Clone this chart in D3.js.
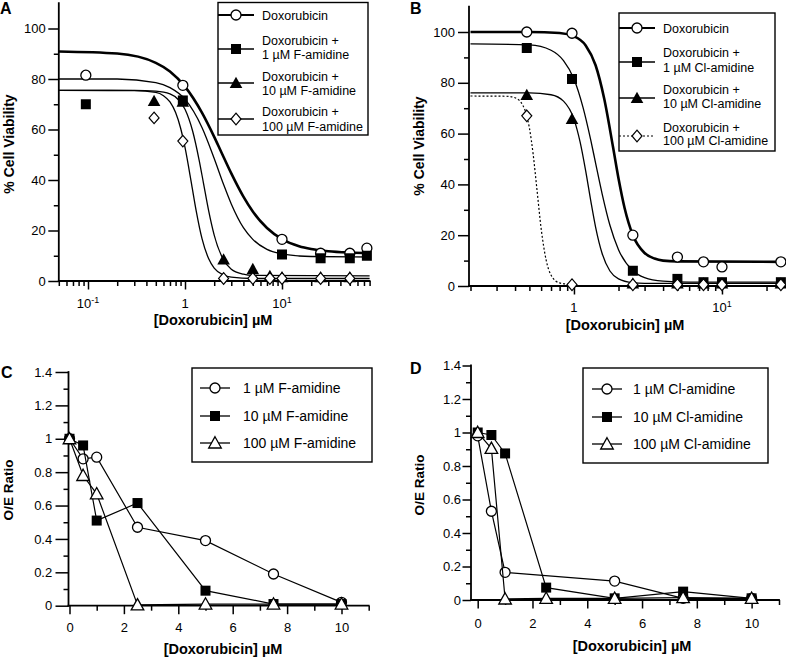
<!DOCTYPE html>
<html><head><meta charset="utf-8">
<script src="https://cdn.jsdelivr.net/npm/d3@7"></script>
<style>body{margin:0;background:#fff}svg{display:block}</style>
</head><body>
<script>
// ================= DATA =================
// Panel A : F-amidine, % cell viability vs [Doxorubicin] (log)
const doseA1 = [0.095, 0.95, 10, 25, 50, 75];
const viabDoxA = [81.5, 77.5, 16.5, 11, 11, 13];
const viabF1 = [70, 71.5, 10.5, 9, 9, 10];
const doseA2 = [0.48, 0.95, 2.5, 5, 7.5, 10, 25, 50];
const viabF10 = [71.3, 71, 8.5, 4.7, 2, 1.5, 1.5, 1.5];
const viabF100 = [64.6, 55.4, 1, 1, 1, 1, 1, 1];
// fitted curves of panel A
const fitDoxA_x = [0.05, 0.2, 0.5, 0.7, 1, 1.5, 2, 2.37, 3, 4, 5, 7, 10, 15, 20, 30, 50, 80];
const fitDoxA_y = [90.9, 90.1, 86.4, 83.0, 77.0, 66.6, 57.1, 51, 42.6, 33.4, 27.5, 21.0, 16.6, 13.8, 12.7, 11.8, 11.3, 11.1];
const fitF1_x = [0.05, 0.2, 0.5, 0.7, 1, 1.5, 2, 2.5, 3, 4, 5, 7, 10, 15, 20, 80];
const fitF1_y = [80, 80, 78.6, 76.6, 72, 60.7, 48.5, 38.2, 30.5, 21.1, 16.5, 12.5, 10.7, 9.9, 9.7, 9.5];
const fitF10_x = [0.05, 0.3, 0.5, 0.7, 0.85, 1, 1.2, 1.4, 1.55, 1.75, 2, 2.5, 3, 4, 5, 80];
const fitF10_y = [75.5, 75.5, 75.2, 74.1, 71.9, 68, 59.3, 47.8, 38.8, 28, 18.2, 8.3, 4.7, 2.7, 2.2, 2];
const fitF100_x = [0.05, 0.3, 0.5, 0.6, 0.7, 0.8, 0.9, 1, 1.17, 1.3, 1.5, 1.75, 2, 2.5, 3, 5, 80];
const fitF100_y = [75.5, 75.4, 74.7, 73.4, 70.9, 66.7, 60.6, 52.9, 38.3, 28.1, 16.7, 8.9, 5.1, 2.3, 1.5, 1.0, 1.0];

// Panel B : Cl-amidine
const doseB = [0.48, 0.97, 2.5, 5, 7.5, 10, 25];
const viabDoxB = [100, 99.5, 20, 11.4, 9.5, 7.5, 9.5];
const viabCl1 = [93.7, 81.5, 6, 2.8, 1.5, 1.5, 1.5];
const viabCl10 = [75.2, 65.7, 1, 1, 1, 1, 1];
const viabCl100 = [67, 0.5, 0.5, 0.5, 0.5, 0.5, 0.5];
const fitDoxB_x = [0.2, 0.5, 0.8, 1, 1.2, 1.4, 1.6, 1.835, 2, 2.2, 2.5, 3, 3.5, 4, 5, 26];
const fitDoxB_y = [100, 100, 99.6, 98.3, 94.7, 86.9, 73.8, 54.8, 42.3, 30.6, 20, 13, 10.8, 10, 9.7, 9.5];
const fitCl1_x = [0.2, 0.5, 0.7, 0.85, 1, 1.15, 1.3, 1.4, 1.55, 1.75, 2, 2.5, 3, 4, 6, 26];
const fitCl1_y = [95.3, 94.9, 92.8, 88.7, 81.5, 70.4, 57.3, 48.4, 36.3, 23.9, 14.3, 6, 3.3, 1.9, 1.5, 1.5];
const fitCl10_x = [0.2, 0.5, 0.7, 0.85, 1, 1.1, 1.2, 1.3, 1.4, 1.55, 1.75, 2, 2.5, 3, 26];
const fitCl10_y = [76, 76, 75.3, 72.8, 65.7, 56.7, 45.3, 33.4, 23.2, 12.8, 5.9, 2.8, 1.3, 1.05, 1];
const fitCl100_x = [0.2, 0.35, 0.4, 0.45, 0.48, 0.5, 0.53, 0.563, 0.6, 0.65, 0.7, 0.8, 1];
const fitCl100_y = [74.8, 74.7, 74.1, 71.3, 67, 62.2, 51.9, 37.7, 22.7, 10, 4.3, 1.2, 0.5];

// Panel C : O/E ratio, F-amidine
const doseC = [0, 0.5, 1, 2.5, 5, 7.5, 10];
const oeF1 = [1.0, 0.88, 0.89, 0.47, 0.39, 0.19, 0.02];
const oeF10 = [1.0, 0.96, 0.51, 0.615, 0.09, 0.01, 0.01];
const oeF100 = [1.0, 0.78, 0.67, 0.005, 0.01, 0.01, 0.01];

// Panel D : O/E ratio, Cl-amidine
const doseD1 = [0, 0.5, 1, 5, 7.5, 10];
const oeCl1 = [0.98, 0.53, 0.165, 0.113, 0.01, 0.01];
const doseD = [0, 0.5, 1, 2.5, 5, 7.5, 10];
const oeCl10 = [1.0, 0.985, 0.875, 0.074, 0.01, 0.05, 0.01];
const oeCl100 = [1.0, 0.905, 0.006, 0.01, 0.01, 0.014, 0.01];

// Tick values / labels
const logMinorA = [0.05,0.06,0.07,0.08,0.09,0.2,0.3,0.4,0.5,0.6,0.7,0.8,0.9,2,3,4,5,6,7,8,9,20,30,40,50,60,70,80];
const logMajorA = [0.1, 1, 10];
const logMinorB = [0.2,0.3,0.4,0.5,0.6,0.7,0.8,0.9,2,3,4,5,6,7,8,9,20];
const logMajorB = [1, 10];
const tickBaseA = ["10", "1", "10"], tickSupA = ["-1", "", "1"];
const tickBaseB = ["1", "10"], tickSupB = ["", "1"];
const viabMajor = [0, 20, 40, 60, 80, 100];
const viabMinor = [10, 30, 50, 70, 90];
const oeMajor = [0, 0.2, 0.4, 0.6, 0.8, 1, 1.2, 1.4];
const oeMinor = [0.1, 0.3, 0.5, 0.7, 0.9, 1.1, 1.3];
const doseMajor = [0, 2, 4, 6, 8, 10];
const doseMinor = [1, 3, 5, 7, 9, 11];

const legendA = [["Doxorubicin"], ["Doxorubicin +", "1 µM F-amidine"], ["Doxorubicin +", "10 µM F-amidine"], ["Doxorubicin +", "100 µM F-amidine"]];
const legendB = [["Doxorubicin"], ["Doxorubicin +", "1 µM Cl-amidine"], ["Doxorubicin +", "10 µM Cl-amidine"], ["Doxorubicin +", "100 µM Cl-amidine"]];
const legendC = ["1 µM F-amidine", "10 µM F-amidine", "100 µM F-amidine"];
const legendD = ["1 µM Cl-amidine", "10 µM Cl-amidine", "100 µM Cl-amidine"];

// ================= DRAWING =================
const FONT = "'Liberation Sans', Arial, Helvetica, sans-serif";
const svg = d3.select("body").append("svg").attr("width", 786).attr("height", 657);
svg.append("rect").attr("width", 786).attr("height", 657).attr("fill", "#fff");

function marker(g, type, cx, cy) {
  const s = g.append("g").attr("transform", `translate(${cx},${cy})`);
  if (type === "circle") s.append("circle").attr("r", 5).attr("fill", "#fff").attr("stroke", "#000").attr("stroke-width", 1.3);
  else if (type === "square") s.append("rect").attr("x", -5).attr("y", -5).attr("width", 10).attr("height", 10).attr("fill", "#000");
  else if (type === "triangle") s.append("path").attr("d", "M0,-6.3L6.3,5L-6.3,5Z").attr("fill", "#000");
  else if (type === "triOpen") s.append("path").attr("d", "M0,-6.3L6.3,5L-6.3,5Z").attr("fill", "#fff").attr("stroke", "#000").attr("stroke-width", 1.3);
  else if (type === "diamond") s.append("path").attr("d", "M0,-5.8L5,0L0,5.8L-5,0Z").attr("fill", "#fff").attr("stroke", "#000").attr("stroke-width", 1.2);
}
function points(g, xs, ys, x, y, type) {
  d3.zip(xs, ys).forEach(d => marker(g, type, x(d[0]), y(d[1])));
}
function curve(g, xs, ys, x, y, w, dash) {
  g.append("path").datum(d3.zip(xs, ys))
    .attr("d", d3.line().curve(d3.curveMonotoneX).x(d => x(d[0])).y(d => y(d[1])))
    .attr("fill", "none").attr("stroke", "#000").attr("stroke-width", w)
    .attr("stroke-dasharray", dash || null);
}
function polyline(g, xs, ys, x, y) {
  g.append("path").datum(d3.zip(xs, ys))
    .attr("d", d3.line().x(d => x(d[0])).y(d => y(d[1])))
    .attr("fill", "none").attr("stroke", "#000").attr("stroke-width", 1.2);
}
function styleAxis(sel, fs) {
  sel.select(".domain").remove();
  sel.selectAll(".tick line").attr("stroke", "#000").attr("stroke-width", 1.5);
  sel.selectAll("text").attr("font-size", fs).attr("font-family", FONT).attr("fill", "#000");
}
function axisLine(g, x1, y1, x2, y2) {
  g.append("line").attr("x1", x1).attr("y1", y1).attr("x2", x2).attr("y2", y2)
    .attr("stroke", "#000").attr("stroke-width", 1.8).attr("stroke-linecap", "square");
}
function yAxis(g, y, xPos, majors, minors, fmt, tick, pad) {
  g.append("g").attr("transform", `translate(${xPos},0)`)
    .call(d3.axisLeft(y).tickValues(minors).tickSize(5).tickFormat("")).call(s => styleAxis(s, 13));
  g.append("g").attr("transform", `translate(${xPos},0)`)
    .call(d3.axisLeft(y).tickValues(majors).tickSize(tick).tickPadding(pad).tickFormat(fmt)).call(s => styleAxis(s, 13));
}
function xAxis(g, x, yPos, majors, minors, fmt, pad) {
  g.append("g").attr("transform", `translate(0,${yPos})`)
    .call(d3.axisBottom(x).tickValues(minors).tickSize(5).tickFormat("")).call(s => styleAxis(s, 13));
  g.append("g").attr("transform", `translate(0,${yPos})`)
    .call(d3.axisBottom(x).tickValues(majors).tickSize(8.5).tickPadding(pad).tickFormat(fmt)).call(s => styleAxis(s, 13));
}
function logLabels(g, x, vals, bases, sups, yBase) {
  vals.forEach((v, i) => {
    const t = g.append("text").attr("x", x(v)).attr("y", yBase).attr("text-anchor", "middle")
      .attr("font-family", FONT).attr("font-size", 13).attr("fill", "#000").text(bases[i]);
    if (sups[i]) t.append("tspan").attr("font-size", 9).attr("dy", -5).text(sups[i]);
  });
}
function label(g, txt, x, y, fs, rot, anchor) {
  g.append("text").attr("transform", `translate(${x},${y})` + (rot ? " rotate(-90)" : ""))
    .attr("text-anchor", anchor || "middle").attr("font-family", FONT).attr("font-weight", "bold")
    .attr("font-size", fs).attr("fill", "#000").text(txt);
}
function legendBox(g, x0, y0, x1, y1) {
  g.append("rect").attr("x", x0).attr("y", y0).attr("width", x1 - x0).attr("height", y1 - y0)
    .attr("fill", "#fff").attr("stroke", "#000").attr("stroke-width", 1.4);
}
function legendRow(g, type, my, lx0, lx1, tx, lines, lineYs, fs, lw, dash) {
  g.append("line").attr("x1", lx0).attr("x2", lx1).attr("y1", my).attr("y2", my)
    .attr("stroke", "#000").attr("stroke-width", lw).attr("stroke-dasharray", dash || null);
  marker(g, type, (lx0 + lx1) / 2, my);
  lines.forEach((t, i) => g.append("text").attr("x", tx).attr("y", lineYs[i] + fs * 0.36)
    .attr("font-family", FONT).attr("font-size", fs).attr("fill", "#000").text(t));
}

// ---------- Panel A ----------
{
  const g = svg.append("g");
  const x = d3.scaleLog().domain([0.05, 80]).range([58.8, 369.6]);
  const y = d3.scaleLinear().domain([0, 110]).range([281, 3.25]);
  curve(g, fitDoxA_x, fitDoxA_y, x, y, 2.6);
  curve(g, fitF1_x, fitF1_y, x, y, 1.3);
  curve(g, fitF10_x, fitF10_y, x, y, 1.3);
  curve(g, fitF100_x, fitF100_y, x, y, 1.3);
  yAxis(g, y, x(0.05), viabMajor, viabMinor, d3.format("d"), 10.5, 2.5);
  xAxis(g, x, y(0), logMajorA, logMinorA, "", 3);
  axisLine(g, x(0.05), y(0), x(80), y(0));
  axisLine(g, x(0.05), y(0), x(0.05), y(110));
  logLabels(g, x, logMajorA, tickBaseA, tickSupA, 308);
  points(g, doseA1, viabDoxA, x, y, "circle");
  points(g, doseA1, viabF1, x, y, "square");
  points(g, doseA2, viabF10, x, y, "triangle");
  points(g, doseA2, viabF100, x, y, "diamond");
  legendBox(g, 218, 2.5, 368, 135);
  legendRow(g, "circle", 15, 218, 254, 262, legendA[0], [15], 12.5, 2);
  legendRow(g, "square", 49, 218, 254, 262, legendA[1], [40, 54], 12.5, 1.3);
  legendRow(g, "triangle", 83, 218, 254, 262, legendA[2], [76, 90], 12.5, 1.3);
  legendRow(g, "diamond", 119, 218, 254, 262, legendA[3], [111, 126], 12.5, 1.3);
  label(g, "% Cell Viability", 14, 144, 14, true);
  label(g, "[Doxorubicin] µM", 213, 325, 14.5, false);
  label(g, "A", 0, 14, 16, false, "start");
}

// ---------- Panel B ----------
{
  const g = svg.append("g");
  const x = d3.scaleLog().domain([0.2, 26]).range([470.5, 783.4]);
  const y = d3.scaleLinear().domain([0, 110]).range([286, 6.6]);
  curve(g, fitDoxB_x, fitDoxB_y, x, y, 2.6);
  curve(g, fitCl1_x, fitCl1_y, x, y, 1.3);
  curve(g, fitCl10_x, fitCl10_y, x, y, 1.3);
  curve(g, fitCl100_x, fitCl100_y, x, y, 1.2, "2,2");
  yAxis(g, y, 469, viabMajor, viabMinor, d3.format("d"), 11, 3);
  xAxis(g, x, y(0), logMajorB, logMinorB, "", 3);
  axisLine(g, 469, y(0), 784, y(0));
  axisLine(g, 469, y(0), 469, y(110));
  logLabels(g, x, logMajorB, tickBaseB, tickSupB, 312);
  points(g, doseB, viabDoxB, x, y, "circle");
  points(g, doseB, viabCl1, x, y, "square");
  points(g, doseB, viabCl10, x, y, "triangle");
  points(g, doseB, viabCl100, x, y, "diamond");
  legendBox(g, 619, 13, 775, 151);
  legendRow(g, "circle", 28, 619, 655, 663, legendB[0], [28], 12.5, 2);
  legendRow(g, "square", 62, 619, 655, 663, legendB[1], [52, 67], 12.5, 1.3);
  legendRow(g, "triangle", 98, 619, 655, 663, legendB[2], [89, 103], 12.5, 1.3);
  legendRow(g, "diamond", 136, 619, 655, 663, legendB[3], [127, 140], 12.5, 1, "2,2");
  label(g, "% Cell Viability", 424, 146, 14, true);
  label(g, "[Doxorubicin] µM", 625, 330, 14.5, false);
  label(g, "B", 410, 14, 16, false, "start");
}

// ---------- Panel C ----------
{
  const g = svg.append("g");
  const x = d3.scaleLinear().domain([0, 11]).range([69.5, 368.7]);
  const y = d3.scaleLinear().domain([0, 1.4]).range([605.7, 372]);
  yAxis(g, y, 68.5, oeMajor, oeMinor, d => d3.format("")(+d.toFixed(1)), 13, 3.3);
  xAxis(g, x, y(0), doseMajor, doseMinor, d3.format("d"), 9);
  axisLine(g, 68.5, y(0), x(11), y(0));
  axisLine(g, 68.5, y(0), 68.5, y(1.4));
  polyline(g, doseC, oeF1, x, y); points(g, doseC, oeF1, x, y, "circle");
  polyline(g, doseC, oeF10, x, y); points(g, doseC, oeF10, x, y, "square");
  polyline(g, doseC, oeF100, x, y); points(g, doseC, oeF100, x, y, "triOpen");
  legendBox(g, 192, 368, 372, 462);
  legendRow(g, "circle", 388, 200, 230, 243, [legendC[0]], [388], 14, 1.3);
  legendRow(g, "square", 416, 200, 230, 243, [legendC[1]], [416], 14, 1.3);
  legendRow(g, "triOpen", 443, 200, 230, 243, [legendC[2]], [443], 14, 1.3);
  label(g, "O/E Ratio", 13, 490, 13.5, true);
  label(g, "[Doxorubicin] µM", 223, 654, 14.5, false);
  label(g, "C", 1, 378, 16, false, "start");
}

// ---------- Panel D ----------
{
  const g = svg.append("g");
  const x = d3.scaleLinear().domain([0, 11]).range([477.7, 779]);
  const y = d3.scaleLinear().domain([0, 1.4]).range([600, 365.5]);
  yAxis(g, y, 471, oeMajor, oeMinor, d => d3.format("")(+d.toFixed(1)), 8.5, 1.5);
  xAxis(g, x, y(0), doseMajor, doseMinor, d3.format("d"), 10);
  axisLine(g, 471, y(0), x(11), y(0));
  axisLine(g, 471, y(0), 471, y(1.4));
  polyline(g, doseD1, oeCl1, x, y); points(g, doseD1, oeCl1, x, y, "circle");
  polyline(g, doseD, oeCl10, x, y); points(g, doseD, oeCl10, x, y, "square");
  polyline(g, doseD, oeCl100, x, y); points(g, doseD, oeCl100, x, y, "triOpen");
  legendBox(g, 583, 368, 768, 463);
  legendRow(g, "circle", 389, 592, 622, 633, [legendD[0]], [389], 14, 1.3);
  legendRow(g, "square", 417, 592, 622, 633, [legendD[1]], [417], 14, 1.3);
  legendRow(g, "triOpen", 444, 592, 622, 633, [legendD[2]], [444], 14, 1.3);
  label(g, "O/E Ratio", 424, 485, 13.5, true);
  label(g, "[Doxorubicin] µM", 632, 651, 14.5, false);
  label(g, "D", 410, 374, 16, false, "start");
}
</script>
</body></html>
